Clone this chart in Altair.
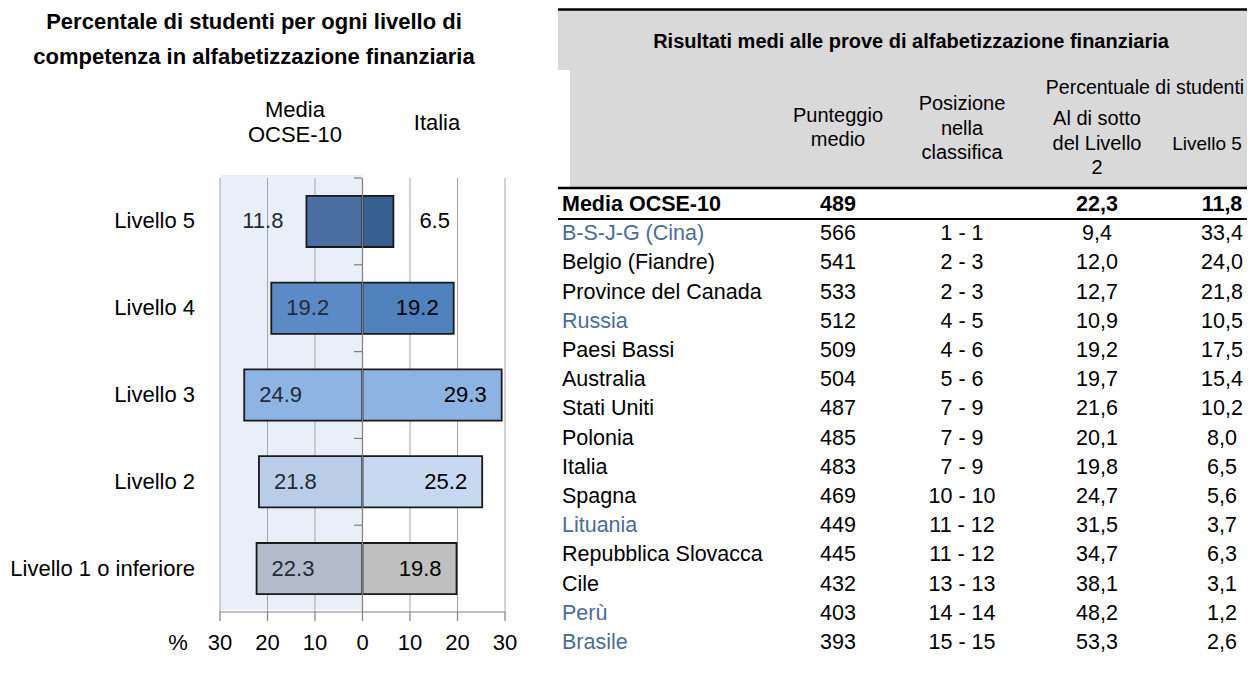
import altair as alt
import pandas as pd

# ---------------- left chart data ----------------
livelli = ["Livello 5", "Livello 4", "Livello 3", "Livello 2", "Livello 1 o inferiore"]
media_ocse = [11.8, 19.2, 24.9, 21.8, 22.3]
italia = [6.5, 19.2, 29.3, 25.2, 19.8]
x_ticks = [-30, -20, -10, 0, 10, 20, 30]
area_ocse = [-30, 0]

# ---------------- table data ----------------
paesi = ["Media OCSE-10", "B-S-J-G (Cina)", "Belgio (Fiandre)", "Province del Canada", "Russia",
         "Paesi Bassi", "Australia", "Stati Uniti", "Polonia", "Italia", "Spagna", "Lituania",
         "Repubblica Slovacca", "Cile", "Perù", "Brasile"]
punteggio = [489, 566, 541, 533, 512, 509, 504, 487, 485, 483, 469, 449, 445, 432, 403, 393]
posizione = ["", "1 - 1", "2 - 3", "2 - 3", "4 - 5", "4 - 6", "5 - 6", "7 - 9", "7 - 9", "7 - 9",
             "10 - 10", "11 - 12", "11 - 12", "13 - 13", "14 - 14", "15 - 15"]
sotto_l2 = [22.3, 9.4, 12.0, 12.7, 10.9, 19.2, 19.7, 21.6, 20.1, 19.8, 24.7, 31.5, 34.7, 38.1, 48.2, 53.3]
livello5 = [11.8, 33.4, 24.0, 21.8, 10.5, 17.5, 15.4, 10.2, 8.0, 6.5, 5.6, 3.7, 6.3, 3.1, 1.2, 2.6]
partner = [False, True, False, False, True, False, False, False, False, False, False, True, False,
           False, True, True]

# ---------------- styles ----------------
FONT = "Liberation Sans"
left_colors = ["#4A6FA0", "#5B8AC6", "#8EB4E3", "#B9CDE8", "#B3BCC8"]
right_colors = ["#36608F", "#4F81BD", "#8DB3E2", "#C6D9F1", "#BFBFBF"]
AXIS_GREY = "#808080"
W, H = 1239, 650
FS = 22

rows = []
for lv, a, b in zip(livelli, media_ocse, italia):
    rows.append({"side": "OCSE", "level": lv, "v": a, "key": "OCSE|" + lv})
    rows.append({"side": "ITA", "level": lv, "v": b, "key": "ITA|" + lv})
df_left = pd.DataFrame(rows)
keys = ["OCSE|" + l for l in livelli] + ["ITA|" + l for l in livelli]
colors = left_colors + right_colors
df_ticks = pd.DataFrame({"t": x_ticks})
df_levels = pd.DataFrame({"level": livelli})

xL = alt.Scale(domain=[-30, 30], range=[212, 497], nice=False, zero=False)
yL = alt.Scale(domain=livelli, range=[170, 604], paddingInner=0.41, paddingOuter=0.205)
Y0, Y1 = 170, 604   # plot top / x-axis line (canvas px)

shade = alt.Chart(pd.DataFrame({"x": [area_ocse[0]], "x2": [area_ocse[1]]})).mark_rect(
    color="#E9EFF8").encode(
    x=alt.X("x:Q", scale=xL, axis=None), x2="x2:Q",
    y=alt.value(Y0 - 3), y2=alt.value(Y1 - 2))

grid = alt.Chart(df_ticks).mark_rule(color="#A6A6A6", strokeWidth=1).encode(
    x=alt.X("t:Q", scale=xL, axis=None), y=alt.value(Y0), y2=alt.value(Y1))

bars = alt.Chart(df_left).transform_calculate(
    x0="datum.side == 'OCSE' ? -datum.v : 0",
    x1="datum.side == 'OCSE' ? 0 : datum.v",
).mark_bar(stroke="#1a1a1a", strokeWidth=1.8).encode(
    x=alt.X("x0:Q", scale=xL, axis=None),
    x2="x1:Q",
    y=alt.Y("level:N", scale=yL, axis=None),
    color=alt.Color("key:N", scale=alt.Scale(domain=keys, range=colors), legend=None),
)

# zero line (drawn over the bars) and category ticks on it
zero_line = alt.Chart(df_ticks).transform_filter("datum.t == 0").mark_rule(
    color=AXIS_GREY, strokeWidth=1.2).encode(
    x=alt.X("t:Q", scale=xL, axis=None), y=alt.value(Y0), y2=alt.value(Y1))
step = (Y1 - Y0) / len(livelli)
cat_ticks = alt.Chart(df_levels).mark_rule(color=AXIS_GREY, strokeWidth=1.2,
                                             yOffset=-0.205 * step).encode(
    x=alt.value(346), x2=alt.value(354),
    y=alt.Y("level:N", scale=yL, axis=None, bandPosition=0))

# x axis drawn with marks
x_domain = alt.Chart(df_ticks).mark_rule(color=AXIS_GREY, strokeWidth=1.2).encode(
    x=alt.X("min(t):Q", scale=xL, axis=None), x2="max(t):Q", y=alt.value(Y1))
x_tickmarks = alt.Chart(df_ticks).mark_rule(color=AXIS_GREY, strokeWidth=1.2).encode(
    x=alt.X("t:Q", scale=xL, axis=None), y=alt.value(Y1), y2=alt.value(Y1 + 9))
x_labels = alt.Chart(df_ticks).transform_calculate(lab="toString(abs(datum.t))").mark_text(
    baseline="middle", align="center", fontSize=FS, font=FONT, color="black").encode(
    x=alt.X("t:Q", scale=xL, axis=None), y=alt.value(Y1 + 31), text="lab:N")

y_labels = alt.Chart(df_levels).mark_text(
    align="right", baseline="middle", fontSize=FS, font=FONT, color="black").encode(
    x=alt.value(187), y=alt.Y("level:N", scale=yL, axis=None), text="level:N")


def vlabels(side, inside, align, dx, color):
    cond = ("datum.v >= 15" if inside else "datum.v < 15")
    sign = "-" if side == "OCSE" else ""
    return alt.Chart(df_left).transform_filter(
        f"datum.side == '{side}' && {cond}").transform_calculate(
        xp=f"{sign}datum.v").mark_text(
        align=align, dx=dx, baseline="middle", fontSize=FS, color=color, font=FONT).encode(
        x=alt.X("xp:Q", scale=xL, axis=None),
        y=alt.Y("level:N", scale=yL, axis=None),
        text=alt.Text("v:Q", format=".1f"))


labels = [
    vlabels("OCSE", True, "left", 15, "#222b38"),
    vlabels("OCSE", False, "right", -23, "#222b38"),
    vlabels("ITA", True, "right", -15, "black"),
    vlabels("ITA", False, "left", 26, "black"),
]

one = pd.DataFrame({"a": [0]})


def note(txt, x, y, size=FS, bold=False, align="center", lh=25):
    # y = centre of the first line
    return alt.Chart(one).mark_text(
        text=txt, align=align, baseline="middle", fontSize=size, font=FONT,
        fontWeight="bold" if bold else "normal", color="black", lineBreak="\n",
        lineHeight=lh).encode(x=alt.value(x), y=alt.value(y))


left_notes = [
    note("Percentale di studenti per ogni livello di\ncompetenza in alfabetizzazione finanziaria",
         246, 14, size=22, bold=True, lh=35),
    note("Media\nOCSE-10", 287, 102, lh=25),
    note("Italia", 429, 115),
    note("%", 170, Y1 + 31),
]

left = alt.layer(shade, grid, bars, zero_line, cat_ticks, x_domain, x_tickmarks, x_labels,
                 y_labels, *labels, *left_notes)

# ---------------- table ----------------
tdf = pd.DataFrame({
    "paese": paesi, "punteggio": punteggio, "posizione": posizione,
    "sotto": sotto_l2, "l5": livello5, "partner": partner,
    "first": [True] + [False] * (len(paesi) - 1),
})
yT = alt.Scale(type="point", domain=paesi, range=[197, 635], padding=0)
TFS = 21.5

base_t = alt.Chart(tdf).transform_calculate(
    sotto_s="replace(format(datum.sotto, '.1f'), '.', ',')",
    l5_s="replace(format(datum.l5, '.1f'), '.', ',')",
    punt_s="format(datum.punteggio, 'd')",
)


def tcol(field, x, align, first):
    flt = "datum.first" if first else "!datum.first"
    enc = dict(x=alt.value(x), y=alt.Y("paese:N", scale=yT, axis=None), text=alt.Text(f"{field}:N"))
    if field == "paese" and not first:
        enc["color"] = alt.condition("datum.partner", alt.value("#4A6C9B"), alt.value("black"))
    return base_t.transform_filter(flt).mark_text(
        align=align, baseline="middle", fontSize=TFS, font=FONT,
        fontWeight="bold" if first else "normal", color="black").encode(**enc)


col_x = {"paese": 554, "punt_s": 830, "posizione": 954, "sotto_s": 1089, "l5_s": 1214}
table_cols = []
for f, xx in col_x.items():
    al = "left" if f == "paese" else "center"
    table_cols.append(tcol(f, xx, al, True))
    table_cols.append(tcol(f, xx, al, False))

grey1 = alt.Chart(one).mark_rect(color="#D9D9D9").encode(
    x=alt.value(550), x2=alt.value(W), y=alt.value(2), y2=alt.value(62))
grey2 = alt.Chart(one).mark_rect(color="#D9D9D9").encode(
    x=alt.value(562), x2=alt.value(W), y=alt.value(62), y2=alt.value(180))
line_top = alt.Chart(one).mark_rule(color="black", strokeWidth=2.5).encode(
    x=alt.value(550), x2=alt.value(W), y=alt.value(1.5))
line_head = alt.Chart(one).mark_rule(color="black", strokeWidth=2.5).encode(
    x=alt.value(550), x2=alt.value(W), y=alt.value(180))
line_media = alt.Chart(one).mark_rule(color="black", strokeWidth=2).encode(
    x=alt.value(550), x2=alt.value(W), y=alt.value(211))

HFS = 20
table_notes = [
    note("Risultati medi alle prove di alfabetizzazione finanziaria", 903, 34, size=20, bold=True),
    note("Punteggio\nmedio", 830, 108, size=HFS, lh=24),
    note("Posizione\nnella\nclassifica", 954, 96, size=HFS, lh=24.5),
    note("Percentuale di studenti", 1137, 80, size=19.5),
    note("Al di sotto\ndel Livello\n2", 1089, 111, size=HFS, lh=24.5),
    note("Livello 5", 1199, 136, size=19),
]

table = alt.layer(grey1, grey2, line_top, line_head, line_media, *table_notes, *table_cols)

chart = alt.layer(left, table).resolve_scale(x="independent", y="independent").properties(
    width=W, height=H, autosize=alt.AutoSizeParams(type="none"), padding=0
).configure(font=FONT).configure_view(strokeWidth=0)

chart.save("out.html", embed_options={"renderer": "svg", "actions": False})
